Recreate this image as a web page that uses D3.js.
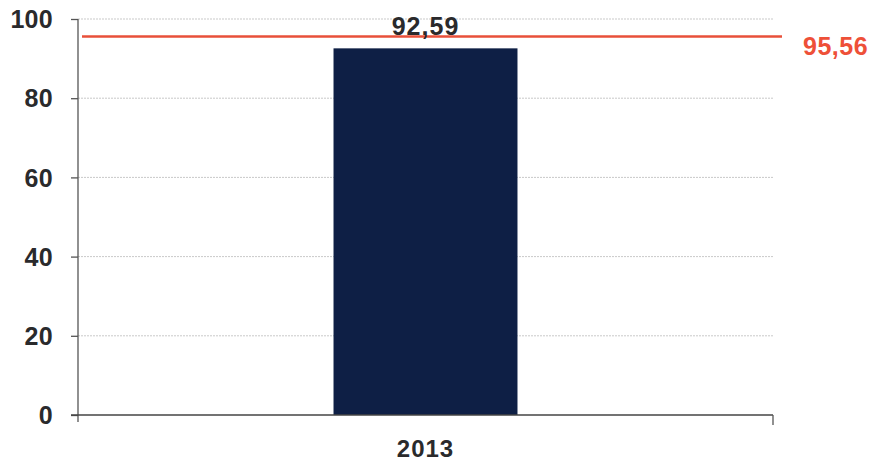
<!DOCTYPE html>
<html>
<head>
<meta charset="utf-8">
<script src="https://cdn.jsdelivr.net/npm/d3@7"></script>
<style>
  html, body { margin: 0; padding: 0; background: #ffffff; }
  svg { display: block; font-family: "Liberation Sans", Arial, sans-serif; }
</style>
</head>
<body>
<svg id="chart" width="874" height="463"></svg>
<script>
// Data
const categories = ["2013"];
const values = [92.59];
const valueLabels = ["92,59"];
const targetValue = 95.56;
const targetLabel = "95,56";
const yTicks = [0, 20, 40, 60, 80, 100];

const svg = d3.select("#chart");
const plotLeft = 78, plotRight = 773, plotTop = 19, plotBottom = 415;

const x = d3.scaleBand().domain(categories).range([plotLeft, plotRight])
  .paddingInner(0.5814).paddingOuter(0.5814);
const y = d3.scaleLinear().domain([0, 100]).range([plotBottom, plotTop]);

const textColor = "#2a2a2c";

// Dotted gridlines
svg.append("g").selectAll("line").data(yTicks.filter(d => d > 0)).join("line")
  .attr("x1", plotLeft).attr("x2", plotRight)
  .attr("y1", d => y(d)).attr("y2", d => y(d))
  .attr("stroke", "#c9c9c9").attr("stroke-width", 1)
  .attr("stroke-dasharray", "2,1");

// Bars
svg.append("g").selectAll("rect").data(values).join("rect")
  .attr("x", (d, i) => x(categories[i]))
  .attr("width", x.bandwidth())
  .attr("y", d => y(d))
  .attr("height", d => y(0) - y(d))
  .attr("fill", "#0e1f45");

// Y axis
const yAxis = d3.axisLeft(y).tickValues(yTicks).tickSize(7).tickPadding(18)
  .tickSizeOuter(0).tickFormat(d3.format("d"));
const gy = svg.append("g").attr("transform", `translate(${plotLeft},0)`).call(yAxis);
gy.select(".domain").attr("stroke", "#555").attr("stroke-width", 1.3)
  .attr("d", `M0,${plotTop}V${plotBottom + 7}`);
gy.selectAll(".tick line").attr("stroke", "#555").attr("stroke-width", 1.3);
gy.selectAll(".tick text")
  .attr("fill", textColor)
  .style("font-size", "25px").style("font-weight", "bold")
  .style("letter-spacing", "0.3px")
  .attr("dy", "0.35em");

// X axis baseline with boundary ticks
const gx = svg.append("g");
gx.append("line")
  .attr("x1", plotLeft - 7).attr("x2", plotRight)
  .attr("y1", y(0)).attr("y2", y(0))
  .attr("stroke", "#444").attr("stroke-width", 1.5);
gx.append("line")
  .attr("x1", plotRight).attr("x2", plotRight)
  .attr("y1", y(0)).attr("y2", y(0) + 10)
  .attr("stroke", "#555").attr("stroke-width", 1.3);
gx.selectAll("text").data(categories).join("text")
  .attr("x", d => x(d) + x.bandwidth() / 2)
  .attr("y", 456.5)
  .attr("text-anchor", "middle")
  .attr("fill", textColor)
  .style("font-size", "24px").style("font-weight", "bold")
  .style("letter-spacing", "1px")
  .text(d => d);

// Target line (drawn beneath the value labels)
svg.append("line")
  .attr("x1", plotLeft + 4).attr("x2", 782)
  .attr("y1", y(targetValue)).attr("y2", y(targetValue))
  .attr("stroke", "#e8503a").attr("stroke-width", 2.5);
svg.append("text")
  .attr("x", 803).attr("y", y(targetValue) + 18)
  .attr("fill", "#ee5038")
  .style("font-size", "25px").style("font-weight", "bold")
  .style("letter-spacing", "0.5px")
  .text(targetLabel);

// Value labels above bars
svg.append("g").selectAll("text").data(values).join("text")
  .attr("x", (d, i) => x(categories[i]) + x.bandwidth() / 2)
  .attr("y", d => y(d) - 13.5)
  .attr("text-anchor", "middle")
  .attr("fill", textColor)
  .style("font-size", "25px").style("font-weight", "bold")
  .style("letter-spacing", "1px")
  .text((d, i) => valueLabels[i]);
</script>
</body>
</html>
